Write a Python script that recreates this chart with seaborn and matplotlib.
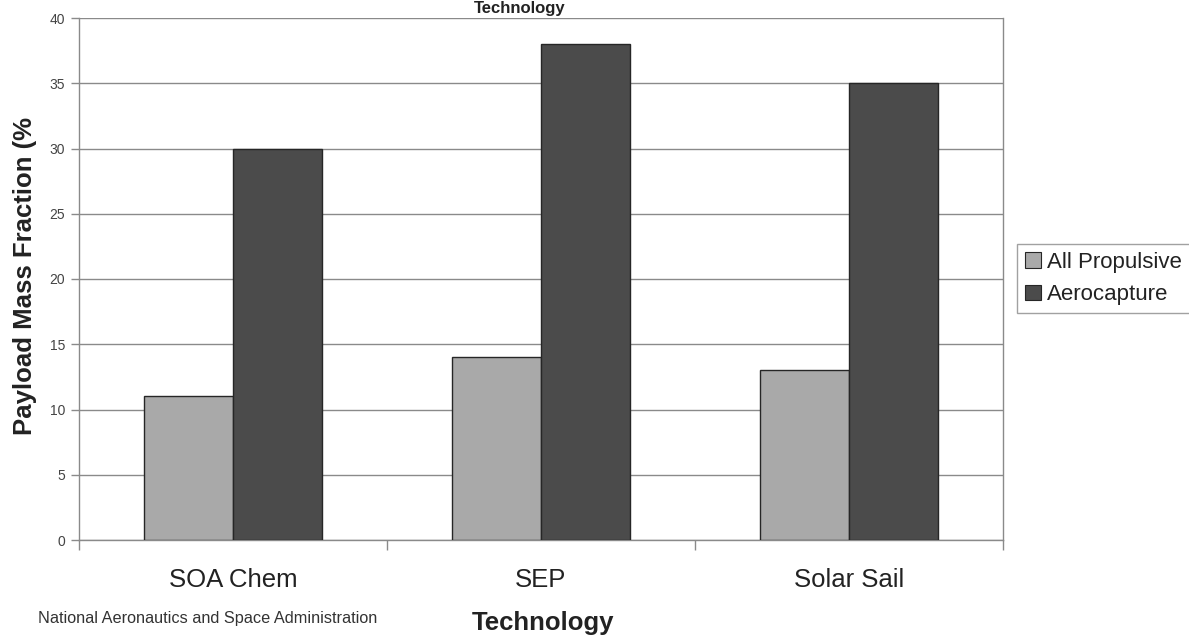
import matplotlib
matplotlib.use("Agg")
import matplotlib.pyplot as plt
import seaborn as sns
import pandas as pd
from matplotlib.patches import Patch

# Payload mass fraction by propulsion technology
technologies = ["SOA Chem", "SEP", "Solar Sail"]
series_names = ["All Propulsive", "Aerocapture"]
all_propulsive = [11, 14, 13]
aerocapture = [30, 38, 35]
y_ticks = [0, 5, 10, 15, 20, 25, 30, 35, 40]

df = pd.DataFrame({
    "Technology": technologies * 2,
    "Mode": [series_names[0]] * 3 + [series_names[1]] * 3,
    "Fraction": all_propulsive + aerocapture,
})

sns.set_theme(style="white")
plt.rcParams["font.family"] = ["Liberation Sans", "DejaVu Sans"]

colors = {"All Propulsive": "#a9a9a9", "Aerocapture": "#4b4b4b"}
fig = plt.figure(figsize=(11.89, 6.39), dpi=100)
ax = fig.add_axes([79 / 1189, 1 - 540 / 639, (1003 - 79) / 1189, (540 - 18) / 639])

sns.barplot(data=df, x="Technology", y="Fraction", hue="Mode", palette=colors,
            width=0.575, gap=0, edgecolor="#262626", linewidth=1.0,
            saturation=1, legend=False, ax=ax, zorder=3)

ax.set_xlim(-0.5, 2.5)
ax.set_ylim(0, 40)
ax.set_yticks(y_ticks)
ax.yaxis.grid(True, color="#8a8a8a", linewidth=1.0, zorder=0)
ax.set_axisbelow(True)

for side in ["left", "right", "bottom"]:
    ax.spines[side].set_visible(True)
    ax.spines[side].set_color("#8a8a8a")
    ax.spines[side].set_linewidth(1.0)
ax.spines["top"].set_visible(False)

ax.tick_params(axis="y", which="major", left=True, length=6, width=1.0,
               color="#8a8a8a", labelsize=10, labelcolor="#444444", pad=4)
ax.set_xticks([-0.5, 0.5, 1.5, 2.5], minor=True)
ax.tick_params(axis="x", which="minor", bottom=True, length=7, width=1.0, color="#8a8a8a")
ax.tick_params(axis="x", which="major", bottom=False, length=0,
               labelsize=18.5, labelcolor="#222222", pad=20)

ax.set_xlabel("")
ax.set_ylabel("")
fig.text(25 / 1189, 1 - 276 / 639, "Payload Mass Fraction (%", rotation=90,
         ha="center", va="center", fontsize=18.5, fontweight="bold", color="#222222")
fig.text(543 / 1189, 1 - 623 / 639, "Technology", ha="center", va="center",
         fontsize=18.5, fontweight="bold", color="#222222")
fig.text(520 / 1189, 1 - 0.5 / 639, "Technology", ha="center", va="top",
         fontsize=12, fontweight="bold", color="#222222")
fig.text(38 / 1189, 1 - 618 / 639, "National Aeronautics and Space Administration",
         ha="left", va="center", fontsize=11.7, color="#333333")

handles = [Patch(facecolor=colors[n], edgecolor="#262626", linewidth=0.8) for n in series_names]
leg = fig.legend(handles, series_names, loc="upper left", mode="expand",
                 bbox_to_anchor=(1017 / 1189, 1 - 311 / 639, 190 / 1189, 67 / 639),
                 fontsize=16, frameon=True, fancybox=False, borderpad=0.36,
                 handlelength=0.7, handleheight=0.7, handletextpad=0.3,
                 labelspacing=0.5, borderaxespad=0)
leg.get_frame().set_edgecolor("#8a8a8a")
leg.get_frame().set_linewidth(1.0)
for t in leg.get_texts():
    t.set_color("#222222")

fig.savefig("out.png", dpi=100)
